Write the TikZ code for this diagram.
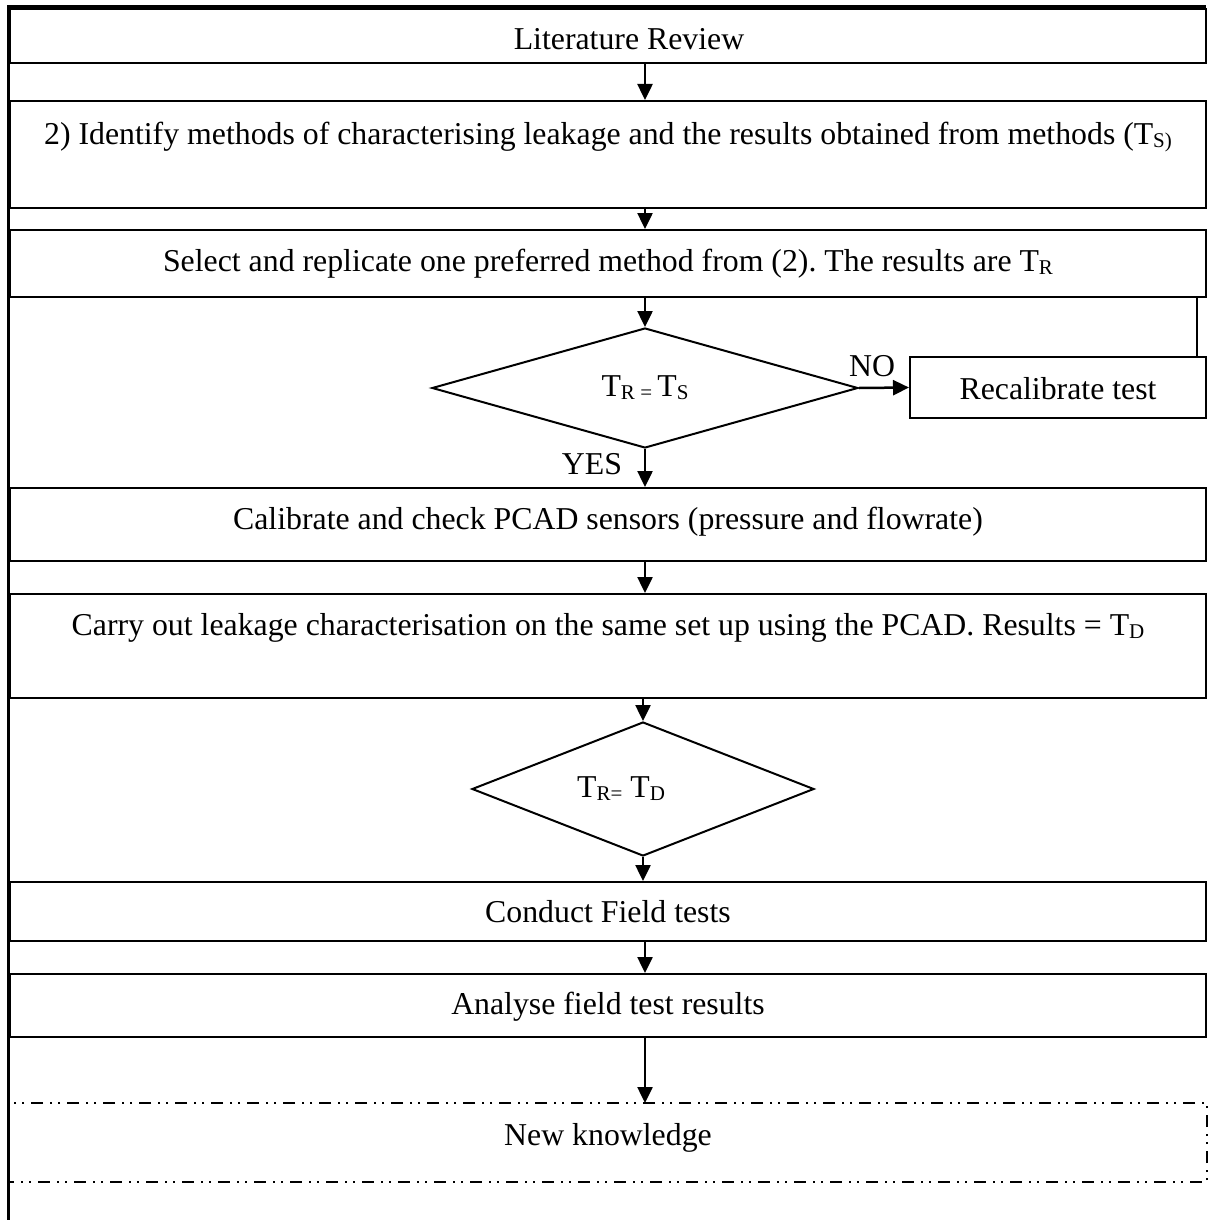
\documentclass[tikz,border=0pt]{standalone}
\usepackage{fontspec}
\setmainfont{Liberation Serif}
\usetikzlibrary{arrows.meta,shapes.geometric}
\newcommand\lsub[1]{\raisebox{-3pt}{\fontsize{21}{21}\selectfont #1}}
\frenchspacing
\begin{document}
\begin{tikzpicture}[x=1pt,y=-1pt,
  font=\fontsize{31.8}{38}\selectfont,
  box/.style={draw,line width=2pt,rectangle,inner sep=0pt,minimum width=1196pt,anchor=north west,align=center},
  dia/.style={draw,line width=2pt,diamond,inner sep=0pt,shape aspect=2.6},
  arr/.style={-{Triangle[length=16pt,width=15pt]},line width=2.5pt},
  frame/.style={line width=3pt},
  dd/.style={line width=2pt,dash pattern=on 12pt off 7pt on 2pt off 6pt on 2pt off 7pt}]
\useasboundingbox (0,0) rectangle (1207,1220);
\coordinate (ax) at (645,0);
\coordinate (bx) at (643,0);
% boxes
\node[box,text height=41pt,text depth=13pt] (lit) at (9,8) {\hspace*{42pt}Literature Review};
\node[box,text height=43pt,text depth=64pt] (idf) at (9,100) {2) Identify methods of characterising leakage and the results obtained from methods (T\lsub{S)}};
\node[box,text height=41pt,text depth=26pt] (sel) at (9,229) {Select and replicate one preferred method from (2). The results are T\lsub{R}};
\node[box,minimum width=296pt,text height=42pt,text depth=19pt] (rec) at (909,356) {Recalibrate test};
\node[box,text height=41pt,text depth=32pt] (cal) at (9,487) {Calibrate and check PCAD sensors (pressure and flowrate)};
\node[box,text height=41pt,text depth=63pt] (car) at (9,593) {Carry out leakage characterisation on the same set up using the PCAD. Results = T\lsub{D}};
\node[box,text height=40pt,text depth=19pt] (con) at (9,881) {Conduct Field tests};
\node[box,text height=40pt,text depth=23pt] (ana) at (9,973) {Analyse field test results};
\node[box,draw=none,text height=41pt,text depth=36pt] (nk) at (9,1103) {New knowledge};
\draw[dd] (nk.north west) rectangle (nk.south east);
% diamonds
\node[dia,minimum width=426pt,minimum height=120pt] (d1) at (645,388) {T\lsub{R = }T\lsub{S}};
\node[dia,minimum width=342pt,minimum height=134pt] (d2) at (643,789) {T\lsub{R=} T\lsub{D}\hspace*{44pt}};
% labels
\node (no) at (872,366) {NO};
\node (yes) at (592,464) {YES};
% frame
\draw[frame] (8,1220) -- (8,7) -- (1206,7);
% connectors
\draw[arr] (lit.south -| ax) -- (idf.north -| ax);
\draw[arr] (idf.south -| ax) -- (sel.north -| ax);
\draw[arr] (sel.south -| ax) -- (d1.north);
\draw[arr] (d1.east) -- (rec.west);
\draw[line width=2pt] ([xshift=-10pt]rec.north east) -- ([xshift=-10pt]rec.north east |- sel.south);
\draw[arr] (d1.south) -- (cal.north -| ax);
\draw[arr] (cal.south -| ax) -- (car.north -| ax);
\draw[arr] (car.south -| bx) -- (d2.north);
\draw[arr] (d2.south) -- (con.north -| bx);
\draw[arr] (con.south -| ax) -- (ana.north -| ax);
\draw[arr] (ana.south -| ax) -- (nk.north -| ax);
\end{tikzpicture}
\end{document}
